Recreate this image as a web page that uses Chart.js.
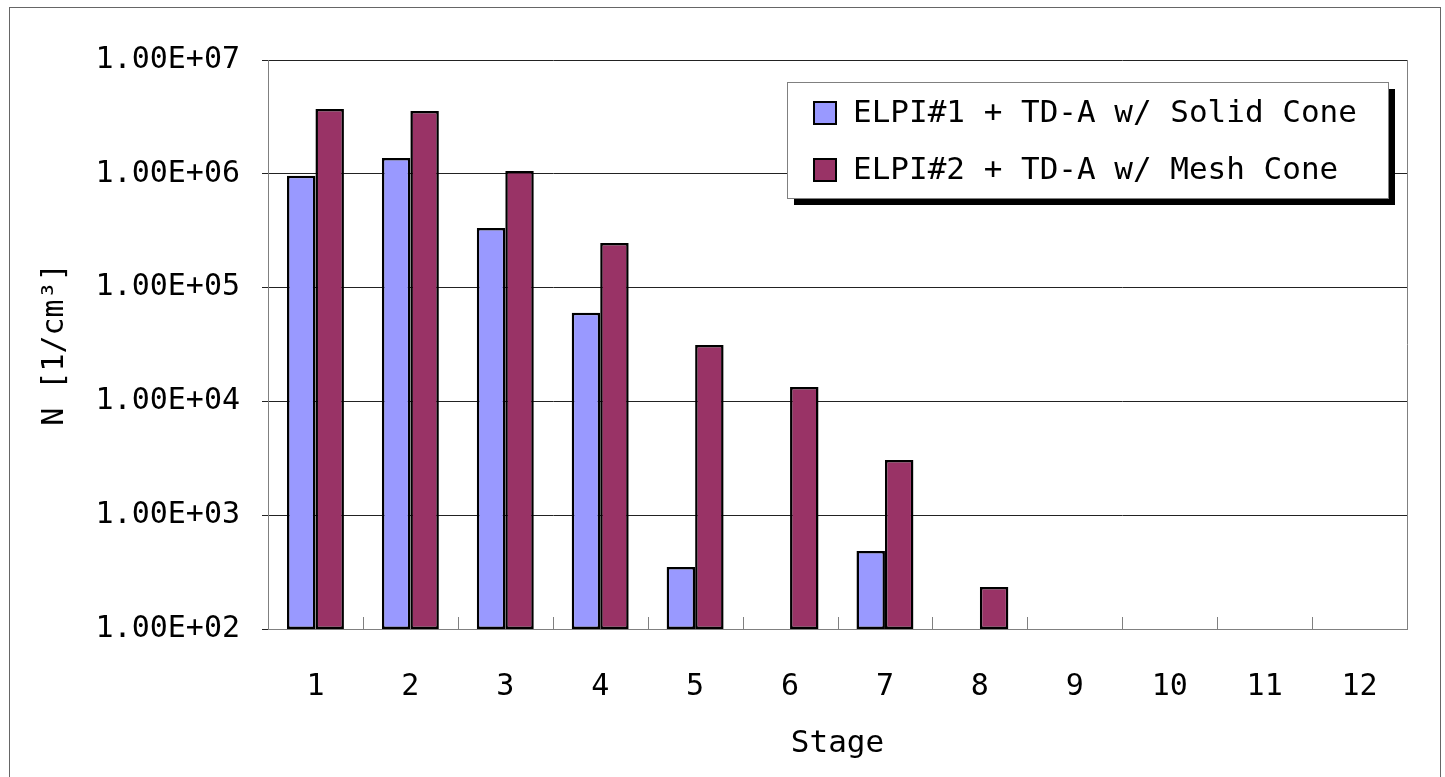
<!DOCTYPE html>
<html>
<head>
<meta charset="utf-8">
<script src="https://cdn.jsdelivr.net/npm/chart.js@4"></script>
<style>
  html, body { margin: 0; padding: 0; background: #fff; }
  #wrap { width: 1445px; height: 777px; }
</style>
</head>
<body>
<div id="wrap"><canvas id="stageChart" width="1445" height="777"></canvas></div>
<script>
const stages = ['1', '2', '3', '4', '5', '6', '7', '8', '9', '10', '11', '12'];
const solidCone = [960000, 1380000, 334000, 60000, 351, null, 484, null, null, null, null, null];
const meshCone = [3710000, 3560000, 1060000, 247000, 31300, 13400, 3050, 234, null, null, null, null];
const seriesNames = ['ELPI#1 + TD-A w/ Solid Cone', 'ELPI#2 + TD-A w/ Mesh Cone'];
const tickValues = [100, 1000, 10000, 100000, 1000000, 10000000];
const tickLabels = ['1.00E+02', '1.00E+03', '1.00E+04', '1.00E+05', '1.00E+06', '1.00E+07'];

const FONT = '"DejaVu Sans Mono", monospace';

// frame, right border, inner tick marks and the boxed legend
const decorPlugin = {
  id: 'decor',
  beforeDraw(chart) {
    const ctx = chart.ctx;
    ctx.save();
    ctx.fillStyle = '#fff';
    ctx.fillRect(0, 0, chart.width, chart.height);
    ctx.strokeStyle = '#666';
    ctx.lineWidth = 1;
    ctx.strokeRect(9.5, 7.5, 1431, 800);
    ctx.restore();
  },
  afterDatasetsDraw(chart) {
    const ctx = chart.ctx;
    const area = chart.chartArea;
    const x = chart.scales.x;
    ctx.save();
    ctx.strokeStyle = '#808080';
    ctx.lineWidth = 1;
    ctx.beginPath();
    ctx.moveTo(Math.round(area.right) + 0.5, area.top);
    ctx.lineTo(Math.round(area.right) + 0.5, area.bottom);
    const half = (x.getPixelForValue(1) - x.getPixelForValue(0)) / 2;
    for (let i = 0; i < stages.length; i++) {
      const px = Math.round(x.getPixelForValue(i) + half) + 0.5;
      ctx.moveTo(px, area.bottom);
      ctx.lineTo(px, area.bottom - 12);
    }
    ctx.stroke();
    ctx.restore();
  },
  afterDraw(chart) {
    const ctx = chart.ctx;
    const bx = 787, by = 82, bw = 601, bh = 116;
    ctx.save();
    ctx.fillStyle = '#000';
    ctx.fillRect(bx + 7, by + 7, bw, bh);
    ctx.fillStyle = '#fff';
    ctx.fillRect(bx, by, bw, bh);
    ctx.strokeStyle = '#808080';
    ctx.lineWidth = 1;
    ctx.strokeRect(bx + 0.5, by + 0.5, bw, bh);
    ctx.font = '31px ' + FONT;
    ctx.textBaseline = 'middle';
    chart.data.datasets.forEach((ds, i) => {
      const cy = by + 31 + i * 57;
      ctx.fillStyle = ds.backgroundColor;
      ctx.fillRect(814, cy - 11, 22, 22);
      ctx.strokeStyle = '#000';
      ctx.lineWidth = 2;
      ctx.strokeRect(814, cy - 11, 22, 22);
      ctx.fillStyle = '#000';
      ctx.fillText(ds.label, 853, cy + 1);
    });
    ctx.restore();
  }
};

new Chart(document.getElementById('stageChart'), {
  type: 'bar',
  data: {
    labels: stages,
    datasets: [
      {
        label: seriesNames[0],
        data: solidCone,
        backgroundColor: '#9999ff',
        borderColor: '#000',
        borderWidth: 2.5,
        borderSkipped: false
      },
      {
        label: seriesNames[1],
        data: meshCone,
        backgroundColor: '#993366',
        borderColor: '#000',
        borderWidth: 2.5,
        borderSkipped: false
      }
    ]
  },
  options: {
    responsive: false,
    animation: false,
    layout: { padding: { top: 60, right: 38, left: 0, bottom: 0 } },
    datasets: { bar: { barPercentage: 1, categoryPercentage: 0.6 } },
    plugins: {
      legend: { display: false },
      tooltip: { enabled: false }
    },
    scales: {
      x: {
        afterFit(scale) { scale.height = 148; },
        grid: { display: false, drawTicks: false },
        border: { display: true, color: '#808080', width: 1 },
        ticks: { color: '#000', padding: 40, font: { family: FONT, size: 30 } },
        title: {
          display: true,
          text: 'Stage',
          color: '#000',
          padding: { top: 0, bottom: 14 },
          font: { family: FONT, size: 31 }
        }
      },
      y: {
        type: 'logarithmic',
        min: tickValues[0],
        max: tickValues[tickValues.length - 1],
        afterFit(scale) { scale.width = 268; },
        afterBuildTicks(scale) {
          scale.ticks = tickValues.map(v => ({ value: v }));
        },
        grid: { color: '#222', tickLength: 6, drawTicks: true },
        border: { display: true, color: '#808080', width: 1 },
        ticks: {
          color: '#000',
          padding: 22,
          font: { family: FONT, size: 30 },
          callback: (v) => tickLabels[tickValues.indexOf(v)]
        },
        title: {
          display: true,
          text: 'N [1/cm³]',
          color: '#000',
          padding: { top: 37, bottom: 0 },
          font: { family: FONT, size: 30 }
        }
      }
    }
  },
  plugins: [decorPlugin]
});
</script>
</body>
</html>
